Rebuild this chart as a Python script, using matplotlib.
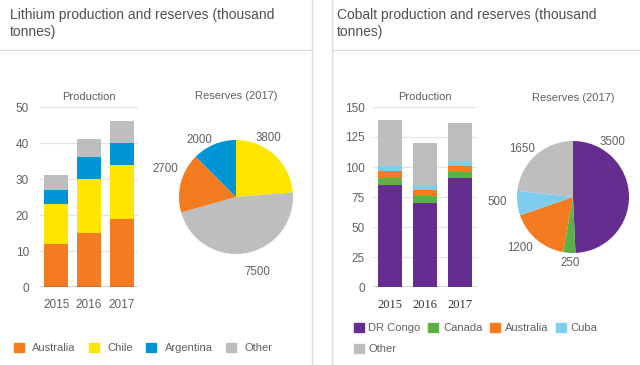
import matplotlib.pyplot as plt
from matplotlib.patches import Patch
from matplotlib.lines import Line2D
import numpy as np

plt.rcParams['font.family'] = ['Liberation Sans', 'DejaVu Sans']

years = ["2015", "2016", "2017"]

# lithium production (thousand tonnes), stacked
li_names = ["Australia", "Chile", "Argentina", "Other"]
li_australia = [12, 15, 19]
li_chile = [11, 15, 15]
li_argentina = [4, 6, 6]
li_other = [4, 5, 6]
li_colors = ["#f47b20", "#ffe500", "#0096d6", "#bcbec0"]

# lithium reserves 2017, in pie order
li_res_names = ["Chile", "Other", "Australia", "Argentina"]
li_reserves = [3800, 7500, 2700, 2000]
li_res_colors = ["#ffe500", "#bcbec0", "#f47b20", "#0096d6"]

# cobalt production
co_names = ["DR Congo", "Canada", "Australia", "Cuba", "Other"]
co_drc = [85, 70, 91]
co_canada = [6, 6, 5]
co_australia = [6, 5, 5]
co_cuba = [4, 4, 4]
co_other = [38, 35, 32]
co_colors = ["#662d91", "#5bb146", "#f47b20", "#7fcdee", "#bcbec0"]

# cobalt reserves 2017
co_reserves = [3500, 250, 1200, 500, 1650]

TXT = "#606060"


def stacked(ax, series, colors, ymax, step, width):
    x = np.arange(len(years))
    bottom = np.zeros(len(years))
    for vals, c in zip(series, colors):
        ax.bar(x, vals, width, bottom=bottom, color=c, zorder=2)
        bottom += np.array(vals)
    ax.set_xlim(-0.5, 2.5)
    ax.set_ylim(0, ymax)
    ax.set_yticks(np.arange(0, ymax + 1, step))
    ax.set_xticks(x)
    ax.set_xticklabels(years)
    ax.grid(axis="y", color="#e2e2e2", lw=0.8, zorder=0)
    ax.axhline(0, color="#333333", lw=1.0, zorder=3)
    for s in ax.spines.values():
        s.set_visible(False)
    ax.tick_params(axis="both", length=0, colors=TXT, labelsize=8.5)
    ax.tick_params(axis="x", pad=9)
    ax.set_title("Production", fontsize=8, color=TXT, pad=5)


def pie(ax, values, colors, nudges, dists):
    wedges, _ = ax.pie(values, colors=colors, startangle=90, counterclock=False,
                       radius=1, wedgeprops=dict(linewidth=0))
    for w, v, n, d in zip(wedges, values, nudges, dists):
        a = np.deg2rad((w.theta1 + w.theta2) / 2 + n)
        ax.text(d * np.cos(a), d * np.sin(a), str(v), ha="center", va="center",
                fontsize=8.3, color=TXT)
    ax.set_xlim(-1, 1)
    ax.set_ylim(-1, 1)
    ax.text(0, 1.77, "Reserves (2017)", ha="center", va="center", fontsize=8, color=TXT)


fig = plt.figure(figsize=(6.4, 3.65), dpi=100)

# panel frames
line_c = "#dedede"
fig.add_artist(Line2D([312 / 640, 312 / 640], [0, 1], transform=fig.transFigure, color=line_c, lw=1))
fig.add_artist(Line2D([332 / 640, 332 / 640], [0, 1], transform=fig.transFigure, color=line_c, lw=1))
fig.add_artist(Line2D([0, 312 / 640], [1 - 50 / 365] * 2, transform=fig.transFigure, color=line_c, lw=1))
fig.add_artist(Line2D([332 / 640, 1], [1 - 50 / 365] * 2, transform=fig.transFigure, color=line_c, lw=1))

fig.text(10 / 640, 1 - 8 / 365, "Lithium production and reserves (thousand\ntonnes)",
         ha="left", va="top", fontsize=10, color="#505050", linespacing=1.25)
fig.text(337 / 640, 1 - 8 / 365, "Cobalt production and reserves (thousand\ntonnes)",
         ha="left", va="top", fontsize=10, color="#505050", linespacing=1.25)

# lithium bars
ax1 = fig.add_axes([40 / 640, 78 / 365, 98 / 640, 180 / 365])
stacked(ax1, [li_australia, li_chile, li_argentina, li_other], li_colors, 50, 10, 0.73)
ax1.tick_params(axis="y", pad=8)

# lithium pie
ax2 = fig.add_axes([179 / 640, 111 / 365, 114 / 640, 114 / 365])
pie(ax2, li_reserves, li_res_colors, [14, 6, -7, 10.5], [1.18, 1.37, 1.34, 1.19])

# cobalt bars
ax3 = fig.add_axes([373 / 640, 78 / 365, 104 / 640, 180 / 365])
stacked(ax3, [co_drc, co_canada, co_australia, co_cuba, co_other], co_colors, 150, 25, 0.69)
ax3.tick_params(axis="y", pad=6)
for t in ax3.get_xticklabels():
    t.set_fontfamily("Liberation Serif")
    t.set_fontsize(9)
    t.set_color("#333333")

# cobalt pie
ax4 = fig.add_axes([517 / 640, 112 / 365, 112 / 640, 112 / 365])
pie(ax4, co_reserves, co_colors, [53, 1, -5.5, -2.5, 5], [1.21, 1.18, 1.31, 1.36, 1.25])

# legends
li_handles = [Patch(color=c, label=n) for n, c in zip(li_names, li_colors)]
fig.legend(handles=li_handles, loc="center left", bbox_to_anchor=(14 / 640, 1 - 348 / 365),
           ncol=4, frameon=False, fontsize=8, handlelength=0.9, handleheight=0.9,
           handletextpad=0.75, columnspacing=1.2, borderpad=0, borderaxespad=0,
           labelcolor=TXT)

co_handles = [Patch(color=c, label=n) for n, c in zip(co_names, co_colors)]
order = [0, 4, 1, 2, 3]
fig.legend(handles=[co_handles[i] for i in order], loc="upper left",
           bbox_to_anchor=(354 / 640, 1 - 323 / 365), ncol=4, frameon=False, fontsize=8,
           handlelength=0.9, handleheight=0.9, handletextpad=0.4, columnspacing=0.7,
           labelspacing=0.95, borderpad=0, borderaxespad=0, labelcolor=TXT)

fig.savefig("out.png", dpi=100, facecolor="white")
